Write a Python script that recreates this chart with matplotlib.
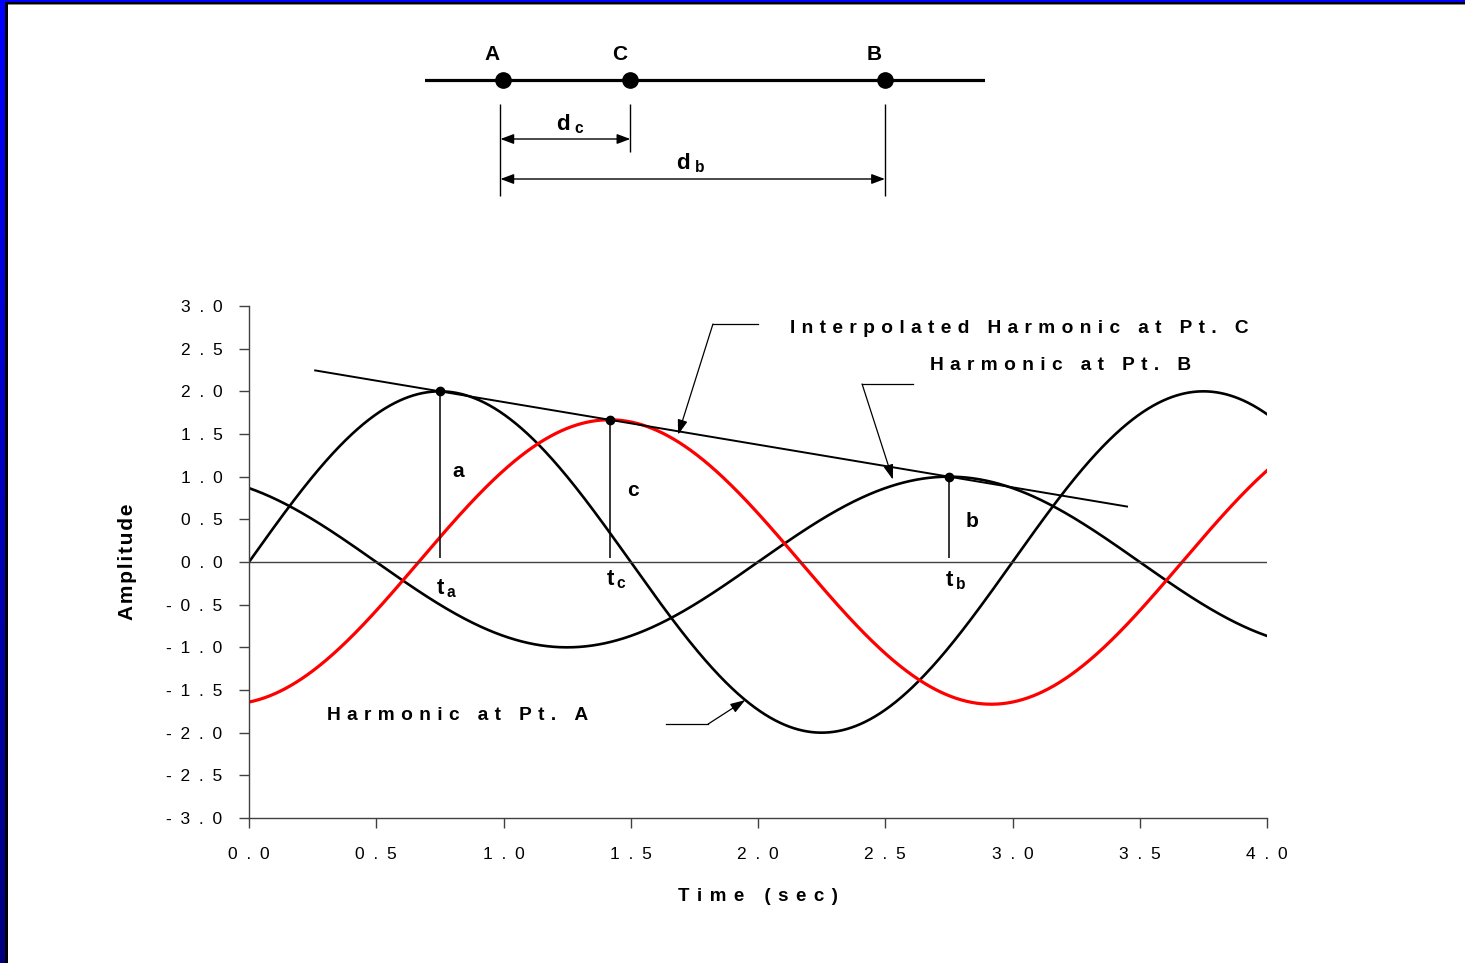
import numpy as np
import matplotlib
matplotlib.use('Agg')
import matplotlib.pyplot as plt
from matplotlib.patches import Rectangle
from matplotlib.ticker import FuncFormatter, MultipleLocator

plt.rcParams['font.family'] = ['Liberation Sans', 'DejaVu Sans']
plt.rcParams['mathtext.fontset'] = 'custom'
plt.rcParams['mathtext.rm'] = 'Liberation Sans'
plt.rcParams['mathtext.bf'] = 'Liberation Sans:bold'

# points along the line and their distance from A
point_names = ['A', 'C', 'B']
point_dist = [0.0, 1.0, 3.0]

# harmonics recorded at A and B (same period, different amplitude / phase)
period = 3.0
amp_a, peak_a = 2.0, 0.75
amp_b, peak_b = 1.0, 2.75

# linear interpolation of amplitude and phase at C
ratio = point_dist[1] / point_dist[2]
amp_c = amp_a + (amp_b - amp_a) * ratio
peak_c = peak_a + (peak_b - peak_a) * ratio

# straight line through the two peaks, drawn over this time span
env_span = np.array([0.26, 3.45])

t = np.linspace(0.0, 4.0, 1601)


def harmonic(amp, peak, tt):
    return amp * np.cos(2 * np.pi * (np.asarray(tt) - peak) / period)


def spaced(s, gap='\u2004'):
    # wide letter spacing
    return gap.join(s)


W, H = 1465, 963
fig = plt.figure(figsize=(W / 100, H / 100), dpi=100)
fig.patch.set_facecolor('white')

# frame: blue gradient on the left, blue bar on top
bg = fig.add_axes([0, 0, 1, 1], zorder=-5)
bg.set_xlim(0, W)
bg.set_ylim(H, 0)
bg.axis('off')
grad = np.linspace(0, 1, 256).reshape(-1, 1)
bg.imshow(np.dstack([np.zeros_like(grad), np.zeros_like(grad), 1.0 - 0.5 * grad]),
          extent=[0, 5, H, 0], aspect='auto', interpolation='bilinear')
bg.add_patch(Rectangle((5, 0), 3, H, color='black', lw=0))
bg.add_patch(Rectangle((0, 0), W, 2.5, color='#0000ff', lw=0))
bg.add_patch(Rectangle((5, 2.5), W, 1.8, color='black', lw=0))
bg.add_patch(Rectangle((8, 4.3), W, 1.0, color='#888888', lw=0))

# schematic of the three points
dax = fig.add_axes([425 / W, 1 - 200 / H, 560 / W, 160 / H])
unit = 127.3
dax.set_xlim((425 - 503) / unit, (985 - 503) / unit)
dax.set_ylim(200, 40)
dax.axis('off')
dax.axhline(80, color='black', lw=2.3)
dax.plot(point_dist, [80] * 3, 'o', color='black', ms=11)
for name, d in zip(point_names, point_dist):
    dax.text(d - 0.085, 54, name, ha='center', va='center',
             fontsize=15, fontweight='bold')
dax.vlines([point_dist[0] - 0.02, point_dist[2]], 104, 196, color='black', lw=1.0)
dax.vlines(point_dist[1], 104, 152, color='black', lw=1.0)
arrow_kw = dict(arrowstyle='<|-|>,head_length=0.8,head_width=0.3',
                color='black', lw=1.0, shrinkA=0, shrinkB=0)
dax.annotate('', xy=(point_dist[0] - 0.02, 139), xytext=(point_dist[1], 139),
             arrowprops=arrow_kw)
dax.annotate('', xy=(point_dist[0] - 0.02, 179), xytext=(point_dist[2], 179),
             arrowprops=arrow_kw)
dax.text((point_dist[0] + point_dist[1]) / 2 + 0.03, 124,
         r'$\mathbf{d}_{\;\mathbf{c}}$', ha='center', va='center', fontsize=16)
dax.text((point_dist[0] + point_dist[2]) / 2 - 0.03, 163,
         r'$\mathbf{d}_{\;\mathbf{b}}$', ha='center', va='center', fontsize=16)

# harmonics plot
ax = fig.add_axes([249 / W, 1 - 818 / H, 1018 / W, 512 / H])
ax.plot(t, harmonic(amp_a, peak_a, t), color='black', lw=1.9)
ax.plot(t, harmonic(amp_b, peak_b, t), color='black', lw=1.9)
ax.plot(t, harmonic(amp_c, peak_c, t), color='#ff0000', lw=2.3)
env_y = amp_a + (amp_b - amp_a) * (env_span - peak_a) / (peak_b - peak_a)
ax.plot(env_span, env_y, color='black', lw=1.4)
ax.axhline(0, color='#404040', lw=1.0)

peaks_t = [peak_a, peak_c, peak_b]
peaks_y = [amp_a, amp_c, amp_b]
ax.vlines(peaks_t, 0.05, peaks_y, color='black', lw=1.1)
ax.plot(peaks_t, peaks_y, 'o', color='black', ms=6)

for lab, pt, py, dx, ly in zip(['a', 'c', 'b'], peaks_t, peaks_y,
                               [0.07, 0.09, 0.09], [1.06, 0.84, 0.48]):
    ax.text(pt + dx, ly, lab, ha='center', va='center',
            fontsize=15, fontweight='bold')
for sub, pt, ly in zip(['a', 'c', 'b'], peaks_t, [-0.31, -0.21, -0.22]):
    ax.text(pt + 0.025, ly, r'$\mathbf{t}_{\,\mathbf{%s}}$' % sub,
            ha='center', va='center', fontsize=16)

# callouts
ann_font = dict(fontsize=13.8, fontweight='bold', va='center', ha='left')
leader = dict(arrowstyle='-|>,head_length=0.9,head_width=0.3',
              color='black', lw=0.9, shrinkA=0, shrinkB=0)

ax.text(2.126, 2.742, spaced('Interpolated Harmonic at Pt. C'), **ann_font)
ax.plot([1.823, 2.0], [2.789, 2.789], color='black', lw=0.9)
tip = 1.686
ax.annotate('', xy=(tip, amp_a + (amp_b - amp_a) * (tip - peak_a) / (peak_b - peak_a) - 0.04),
            xytext=(1.823, 2.789), arrowprops=leader)

ax.text(2.676, 2.297, spaced('Harmonic at Pt. B'), **ann_font)
ax.plot([2.409, 2.609], [2.086, 2.086], color='black', lw=0.9)
tip = 2.53
ax.annotate('', xy=(tip, harmonic(amp_b, peak_b, tip) + 0.07),
            xytext=(2.409, 2.086), arrowprops=leader)

ax.text(0.306, -1.793, spaced('Harmonic at Pt. A'), **ann_font)
ax.plot([1.638, 1.804], [-1.899, -1.899], color='black', lw=0.9)
tip = 1.95
ax.annotate('', xy=(tip, harmonic(amp_a, peak_a, tip)),
            xytext=(1.804, -1.899), arrowprops=leader)

ax.set_xlim(0, 4)
ax.set_ylim(-3, 3)
ax.xaxis.set_major_locator(MultipleLocator(0.5))
ax.yaxis.set_major_locator(MultipleLocator(0.5))
fmt = FuncFormatter(lambda v, p: spaced('%.1f' % v, '\u2002'))
ax.xaxis.set_major_formatter(fmt)
ax.yaxis.set_major_formatter(fmt)
for side in ['top', 'right']:
    ax.spines[side].set_visible(False)
for side in ['left', 'bottom']:
    ax.spines[side].set_color('#404040')
    ax.spines[side].set_linewidth(1.0)
ax.tick_params(direction='out', length=7, width=1.0, color='#404040',
               labelsize=12.5, labelcolor='black')
ax.tick_params(axis='y', pad=12)
ax.tick_params(axis='x', pad=14)

ax.set_xlabel(spaced('Time (sec)', '\u2009\u2009'), fontsize=13.5,
              fontweight='bold', va='center')
ax.xaxis.set_label_coords(0.5, -0.154)
ax.set_ylabel(spaced('Amplitude', '\u200a'), fontsize=15, fontweight='bold', va='center')
ax.yaxis.set_label_coords(-0.119, 0.5)

fig.savefig('out.png', dpi=100, facecolor='white')
